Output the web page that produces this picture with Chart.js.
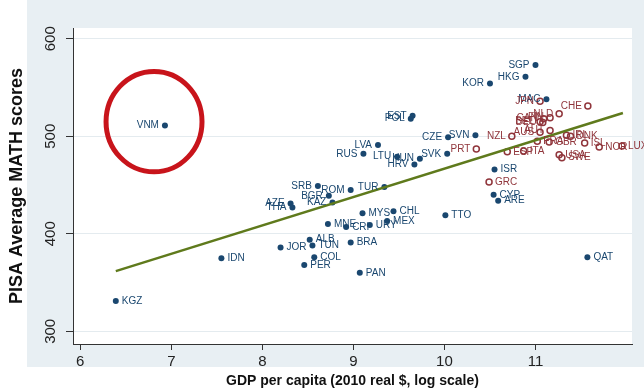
<!DOCTYPE html>
<html>
<head>
<meta charset="utf-8">
<script src="https://cdn.jsdelivr.net/npm/chart.js"></script>
<style>
  html, body { margin: 0; padding: 0; background: #fff; }
</style>
</head>
<body>
<canvas id="pisaChart" width="644" height="390"></canvas>
<script>
// filled navy dots
const blueNames = ['KGZ','IDN','VNM','JOR','ALB','TUN','COL','PER','BRA','PAN','MNE','CRI','URY','MEX','MYS','CHL','TTO',
  'SRB','ROM','TUR','BGR','KAZ','AZE','THA','LVA','RUS','LTU','HUN','HRV','SVK','CZE','SVN','EST','POL',
  'KOR','HKG','SGP','MAC','ISR','CYP','ARE','QAT'];
const blueGdp = [6.39, 7.55, 6.93, 8.20, 8.52, 8.55, 8.57, 8.46, 8.97, 9.07, 8.72, 8.92, 9.18, 9.37, 9.10, 9.44, 10.01,
  8.61, 8.97, 9.34, 8.73, 8.77, 8.31, 8.33, 9.27, 9.11, 9.48, 9.73, 9.67, 10.03, 10.04, 10.34, 9.65, 9.63,
  10.50, 10.89, 11.00, 11.12, 10.55, 10.54, 10.59, 11.57];
const blueMath = [331, 375, 511, 386, 394, 388, 376, 368, 391, 360, 410, 407, 409, 413, 421, 423, 419,
  449, 445, 448, 439, 432, 431, 427, 491, 482, 479, 477, 471, 482, 499, 501, 521, 518,
  554, 561, 573, 538, 466, 440, 434, 376];

// hollow maroon circles
const redNames = ['PRT','GRC','NZL','ESP','ITA','JPN','CHE','NLD','FIN','CAN','BEL','DEU','AUT','AUS',
  'FRA','GBR','IRL','DNK','ISL','NOR','LUX','USA','SWE'];
const redGdp = [10.35, 10.49, 10.74, 10.69, 10.87, 11.05, 11.575, 11.26, 11.16, 11.09, 11.05, 11.08, 11.16, 11.05,
  11.02, 11.15, 11.34, 11.385, 11.54, 11.70, 11.95, 11.26, 11.29];
const redMath = [487, 453, 500, 484, 485, 536, 531, 523, 519, 518, 515, 514, 506, 504,
  495, 494, 501, 500, 493, 489, 490, 481, 478];

// fitted line end points
const fitGdp = [6.39, 11.96];
const fitMath = [361.7, 523.8];

const xTicks = [6, 7, 8, 9, 10, 11];
const yTicks = [300, 400, 500, 600];

// labels drawn on the left side of their marker
const leftLabels = ['VNM','KOR','HKG','SGP','MAC','CZE','SVN','SVK','LVA','RUS','LTU','HUN','HRV','EST','POL',
  'TUR','ROM','SRB','BGR','KAZ','AZE','THA','PRT','NZL','JPN','CHE','NLD','CAN','DEU','BEL','FIN','AUS','AUT'];

const navy = '#1a476f';
const maroon = '#90353b';

const toPoints = (xs, ys) => xs.map((x, i) => ({ x: x, y: ys[i] }));

const backdrop = {
  id: 'backdrop',
  beforeDraw(chart) {
    const { ctx, chartArea: a } = chart;
    ctx.save();
    ctx.fillStyle = '#fff';
    ctx.fillRect(0, 0, chart.width, chart.height);
    ctx.fillStyle = '#e8eff3';
    ctx.fillRect(27, 0, chart.width - 27, 367);
    ctx.fillStyle = '#fff';
    ctx.fillRect(a.left, a.top, a.right - a.left, a.bottom - a.top);
    ctx.restore();
  }
};

const pointLabels = {
  id: 'pointLabels',
  afterDatasetsDraw(chart) {
    const ctx = chart.ctx;
    ctx.save();
    ctx.font = '10px "Liberation Sans", Arial, sans-serif';
    ctx.textBaseline = 'middle';
    chart.data.datasets.forEach((ds, i) => {
      if (!ds.names) return;
      ctx.fillStyle = ds.labelColor;
      chart.getDatasetMeta(i).data.forEach((pt, j) => {
        const name = ds.names[j];
        const left = leftLabels.includes(name);
        ctx.textAlign = left ? 'right' : 'left';
        ctx.fillText(name, pt.x + (left ? -6 : 6), pt.y);
      });
    });

    // red ring round Vietnam
    const xs = chart.scales.x, ys = chart.scales.y;
    const cx = xs.getPixelForValue(6.81), cy = ys.getPixelForValue(515);
    const rx = xs.getPixelForValue(6.81 + 0.527) - cx;
    const ry = cy - ys.getPixelForValue(515 + 51.5);
    ctx.beginPath();
    ctx.ellipse(cx, cy, rx, ry, 0, 0, Math.PI * 2);
    ctx.strokeStyle = '#c8141b';
    ctx.lineWidth = 5;
    ctx.stroke();
    ctx.restore();
  }
};

new Chart(document.getElementById('pisaChart'), {
  type: 'scatter',
  data: {
    datasets: [
      {
        type: 'line',
        data: toPoints(fitGdp, fitMath),
        borderColor: '#5f7a1c',
        borderWidth: 2.5,
        pointRadius: 0,
        fill: false
      },
      {
        data: toPoints(blueGdp, blueMath),
        names: blueNames,
        labelColor: navy,
        pointRadius: 3,
        backgroundColor: navy,
        borderColor: navy,
        borderWidth: 0
      },
      {
        data: toPoints(redGdp, redMath),
        names: redNames,
        labelColor: maroon,
        pointRadius: 3,
        backgroundColor: 'rgba(0,0,0,0)',
        borderColor: maroon,
        borderWidth: 1.5
      }
    ]
  },
  options: {
    responsive: false,
    animation: false,
    devicePixelRatio: 1,
    layout: { padding: { top: 28, right: 12, left: 0, bottom: 0 } },
    plugins: { legend: { display: false }, tooltip: { enabled: false } },
    scales: {
      x: {
        type: 'linear',
        min: 5.92,
        max: 12.06,
        afterBuildTicks: s => { s.ticks = xTicks.map(v => ({ value: v })); },
        afterFit: s => { s.height = 46; },
        grid: { drawOnChartArea: false, tickLength: 6, tickColor: '#333' },
        border: { color: '#333', width: 1 },
        ticks: { color: '#222', padding: 3, font: { size: 15, family: '"Liberation Sans", Arial' } },
        title: {
          display: true,
          text: 'GDP per capita (2010 real $, log scale)',
          color: '#111',
          padding: { top: 0, bottom: 0 },
          font: { size: 14, weight: 'bold', family: '"Liberation Sans", Arial' }
        }
      },
      y: {
        min: 287,
        max: 611,
        afterBuildTicks: s => { s.ticks = yTicks.map(v => ({ value: v })); },
        afterFit: s => { s.width = 73; },
        grid: { color: '#e4ebef', tickLength: 7, tickColor: '#333' },
        border: { color: '#333', width: 1 },
        ticks: {
          color: '#222', padding: 3, minRotation: 90, maxRotation: 90, crossAlign: 'center',
          font: { size: 15, family: '"Liberation Sans", Arial' }
        },
        title: {
          display: true,
          text: 'PISA Average MATH scores',
          color: '#111',
          padding: { top: 6, bottom: 0 },
          font: { size: 18, weight: 'bold', family: '"Liberation Sans", Arial' }
        }
      }
    }
  },
  plugins: [backdrop, pointLabels]
});
</script>
</body>
</html>
